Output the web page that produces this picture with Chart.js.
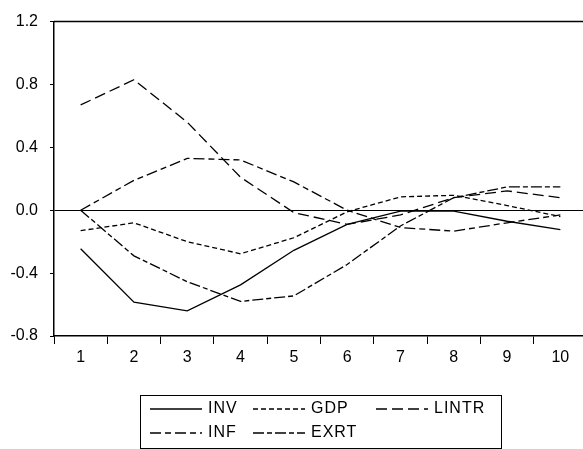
<!DOCTYPE html>
<html>
<head>
<meta charset="utf-8">
<script src="https://cdn.jsdelivr.net/npm/chart.js@4/dist/chart.umd.min.js"></script>
<style>
  html, body { margin: 0; padding: 0; background: #fff; overflow: hidden; }
  #wrap { width: 583px; height: 449px; overflow: hidden; }
</style>
</head>
<body>
<div id="wrap"><canvas id="irf" width="590" height="449"></canvas></div>
<script>
const periods = ["1", "2", "3", "4", "5", "6", "7", "8", "9", "10"];
const inv   = [-0.245, -0.585, -0.64, -0.475, -0.255, -0.09, -0.005, -0.005, -0.07, -0.123];
const gdp   = [-0.13, -0.08, -0.2, -0.277, -0.175, -0.01, 0.085, 0.095, 0.03, -0.04];
const lintr = [0.67, 0.83, 0.56, 0.21, -0.015, -0.09, -0.03, 0.08, 0.123, 0.08];
const inf   = [0, 0.19, 0.33, 0.32, 0.18, 0.0, -0.11, -0.133, -0.08, -0.03];
const exrt  = [0, -0.29, -0.455, -0.58, -0.545, -0.345, -0.1, 0.08, 0.148, 0.148];

const FONT = "'Liberation Sans', Arial, sans-serif";

function series(label, data, dash) {
  return {
    label: label,
    data: data,
    borderColor: "#000",
    borderWidth: 1.3,
    borderDash: dash,
    pointRadius: 0,
    tension: 0,
    fill: false
  };
}

// top frame line + boxed legend under the plot
const framePlugin = {
  id: "frame",
  afterDraw(chart) {
    const ctx = chart.ctx;
    const area = chart.chartArea;
    ctx.save();
    ctx.strokeStyle = "#000";
    ctx.lineWidth = 1.5;
    ctx.beginPath();
    ctx.moveTo(area.left, area.top);
    ctx.lineTo(area.right, area.top);
    ctx.stroke();

    // legend box
    ctx.lineWidth = 1;
    ctx.strokeRect(140.5, 395.5, 361, 53);
    const spots = [
      [150, 409], [253, 409], [376, 409],
      [150, 433], [253, 433]
    ];
    ctx.font = "16px " + FONT;
    ctx.letterSpacing = "1px";
    ctx.textBaseline = "middle";
    ctx.fillStyle = "#000";
    chart.data.datasets.forEach((ds, i) => {
      const [x, y] = spots[i];
      ctx.setLineDash(ds.borderDash || []);
      ctx.lineWidth = 1.3;
      ctx.beginPath();
      ctx.moveTo(x, y);
      ctx.lineTo(x + 52, y);
      ctx.stroke();
      ctx.setLineDash([]);
      ctx.fillText(ds.label, x + 58, y);
    });
    ctx.restore();
  }
};

new Chart(document.getElementById("irf"), {
  type: "line",
  data: {
    labels: periods,
    datasets: [
      series("INV", inv, []),
      series("GDP", gdp, [5, 3]),
      series("LINTR", lintr, [11, 5]),
      series("INF", inf, [11, 4, 6, 4]),
      series("EXRT", exrt, [11, 3, 5, 3])
    ]
  },
  options: {
    responsive: false,
    animation: false,
    devicePixelRatio: 1,
    layout: { padding: { top: 16, right: 3, bottom: 83, left: 0 } },
    plugins: {
      legend: { display: false },
      tooltip: { enabled: false }
    },
    scales: {
      x: {
        offset: true,
        grid: {
          offset: true,
          drawOnChartArea: false,
          tickColor: "#000",
          tickLength: 8
        },
        border: { color: "#000", width: 1.5 },
        ticks: { color: "#000", font: { family: FONT, size: 16 }, padding: 4, maxRotation: 0 },
        afterFit(scale) { scale.height = 30; }
      },
      y: {
        min: -0.8,
        max: 1.2,
        grid: {
          color: (c) => (c.tick && Math.abs(c.tick.value) < 1e-9 ? "#000" : "rgba(0,0,0,0)"),
          tickColor: "#000",
          tickLength: 4,
          lineWidth: 1
        },
        border: { color: "#000", width: 1.5 },
        ticks: {
          stepSize: 0.4,
          color: "#000",
          font: { family: FONT, size: 16 },
          padding: 12,
          callback: (v) => Number(v).toFixed(1)
        },
        afterFit(scale) { scale.width = 54; }
      }
    }
  },
  plugins: [framePlugin]
});
</script>
</body>
</html>
